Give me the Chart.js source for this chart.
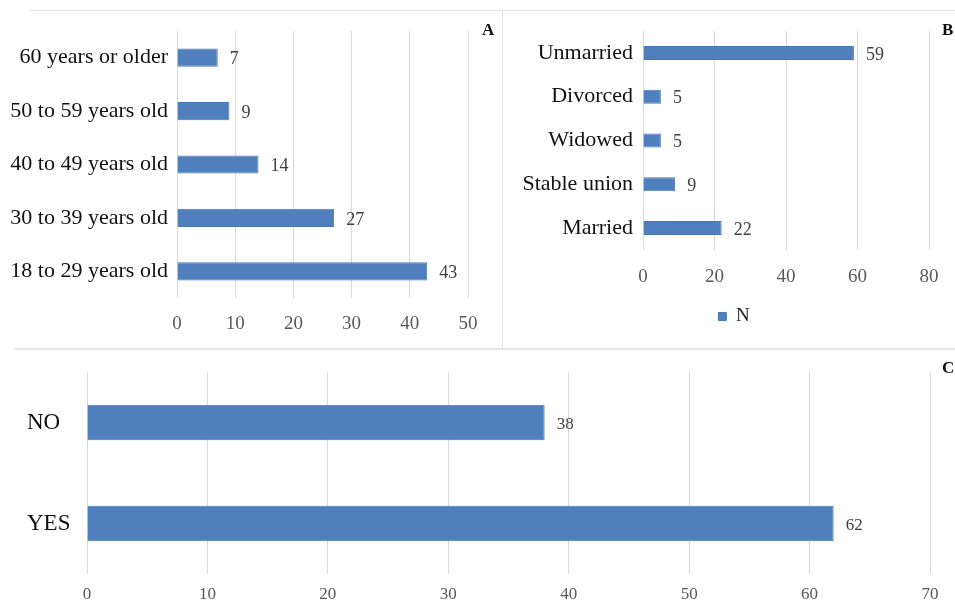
<!DOCTYPE html>
<html>
<head>
<meta charset="utf-8">
<script src="https://cdn.jsdelivr.net/npm/chart.js@4/dist/chart.umd.min.js"></script>
<style>
  body { margin: 0; background: #fff; }
  #wrap { position: relative; width: 955px; height: 605px; overflow: hidden; font-family: "Liberation Serif", serif; }
  canvas { position: absolute; }
  .rule { position: absolute; background: #e3e3e3; }
  .tag { position: absolute; font-weight: bold; font-size: 17px; color: #111; }
</style>
</head>
<body>
<div id="wrap">
  <div class="rule" style="left:30px;top:10px;width:925px;height:1px"></div>
  <div class="rule" style="left:502px;top:10px;width:1px;height:338px"></div>
  <div class="rule" style="left:15px;top:348px;width:940px;height:2px"></div>
  <canvas id="chartA" width="500" height="345" style="left:0;top:0"></canvas>
  <canvas id="chartB" width="450" height="345" style="left:505px;top:0"></canvas>
  <canvas id="chartC" width="955" height="253" style="left:0;top:352px"></canvas>
  <div class="tag" style="left:482px;top:20px">A</div>
  <div class="tag" style="left:942px;top:20px">B</div>
  <div class="tag" style="left:942px;top:358px">C</div>
</div>
<script>
// A: age groups (top to bottom)
const ageGroups = ['60 years or older', '50 to 59 years old', '40 to 49 years old', '30 to 39 years old', '18 to 29 years old'];
const ageCounts = [7, 9, 14, 27, 43];

// B: marital status (top to bottom)
const maritalStatus = ['Unmarried', 'Divorced', 'Widowed', 'Stable union', 'Married'];
const maritalCounts = [59, 5, 5, 9, 22];

// C: yes / no
const answers = ['NO', 'YES'];
const answerCounts = [38, 62];

const barBlue = '#4f7fbd';
const gridGrey = '#d9d9d9';
const serif = 'Liberation Serif';

// value printed just after the end of each bar
const barValueLabels = {
  id: 'barValueLabels',
  afterDatasetsDraw(chart, args, opts) {
    const ctx = chart.ctx;
    ctx.save();
    ctx.font = opts.size + 'px "' + serif + '"';
    ctx.fillStyle = '#404040';
    ctx.textAlign = 'left';
    ctx.textBaseline = 'middle';
    const vals = chart.data.datasets[0].data;
    chart.getDatasetMeta(0).data.forEach((bar, i) => {
      ctx.fillText(vals[i], bar.x + 12, bar.y + 2);
    });
    ctx.restore();
  }
};

// nudge the legend a bit to the right (it sits under the plot, not the canvas centre)
const legendShift = {
  id: 'legendShift',
  afterLayout(chart, args, opts) {
    if (chart.legend && opts.dx) {
      chart.legend.left += opts.dx;
      chart.legend.right += opts.dx;
    }
  }
};

function makeBar(id, labels, values, cfg) {
  return new Chart(document.getElementById(id), {
    type: 'bar',
    data: {
      labels: labels,
      datasets: [{
        label: 'N',
        data: values,
        backgroundColor: barBlue,
        borderColor: '#4a78b3',
        borderWidth: 1,
        barPercentage: cfg.barPct,
        categoryPercentage: 1
      }]
    },
    plugins: [barValueLabels, legendShift],
    options: {
      indexAxis: 'y',
      responsive: false,
      animation: false,
      layout: { padding: cfg.padding },
      plugins: {
        legend: cfg.legend || { display: false },
        tooltip: { enabled: false },
        barValueLabels: { size: cfg.valueSize },
        legendShift: { dx: cfg.legendDx || 0 }
      },
      scales: {
        x: {
          min: 0,
          max: cfg.max,
          ticks: { stepSize: cfg.step, padding: cfg.xPad, color: '#595959', font: { family: serif, size: cfg.tickSize } },
          grid: { color: gridGrey, drawTicks: false },
          border: { display: false },
          afterFit: s => { s.height = cfg.xHeight; }
        },
        y: {
          ticks: {
            color: '#111',
            padding: cfg.yPad,
            crossAlign: cfg.crossAlign || 'near',
            font: { family: serif, size: cfg.catSize }
          },
          grid: { display: false, drawTicks: false },
          border: { display: false },
          afterFit: s => { s.width = cfg.yWidth; }
        }
      }
    }
  });
}

makeBar('chartA', ageGroups, ageCounts, {
  max: 50, step: 10, barPct: 0.34,
  padding: { top: 31, right: 32, left: 0, bottom: 0 },
  yWidth: 177, xHeight: 47, xPad: 15, yPad: 9,
  catSize: 22, tickSize: 19, valueSize: 18
});

makeBar('chartB', maritalStatus, maritalCounts, {
  max: 80, step: 20, barPct: 0.32,
  padding: { top: 31, right: 26, left: 0, bottom: 9 },
  yWidth: 138, xHeight: 47, xPad: 16, yPad: 10,
  catSize: 22, tickSize: 19, valueSize: 18,
  legendDx: 17,
  legend: {
    display: true,
    position: 'bottom',
    labels: { boxWidth: 8, boxHeight: 8, color: '#222', font: { family: serif, size: 19 } }
  }
});

makeBar('chartC', answers, answerCounts, {
  max: 70, step: 10, barPct: 0.35,
  padding: { top: 20, right: 25, left: 27, bottom: 0 },
  yWidth: 60, xHeight: 31, xPad: 10, yPad: 0, crossAlign: 'far',
  catSize: 23, tickSize: 17, valueSize: 17
});
</script>
</body>
</html>
